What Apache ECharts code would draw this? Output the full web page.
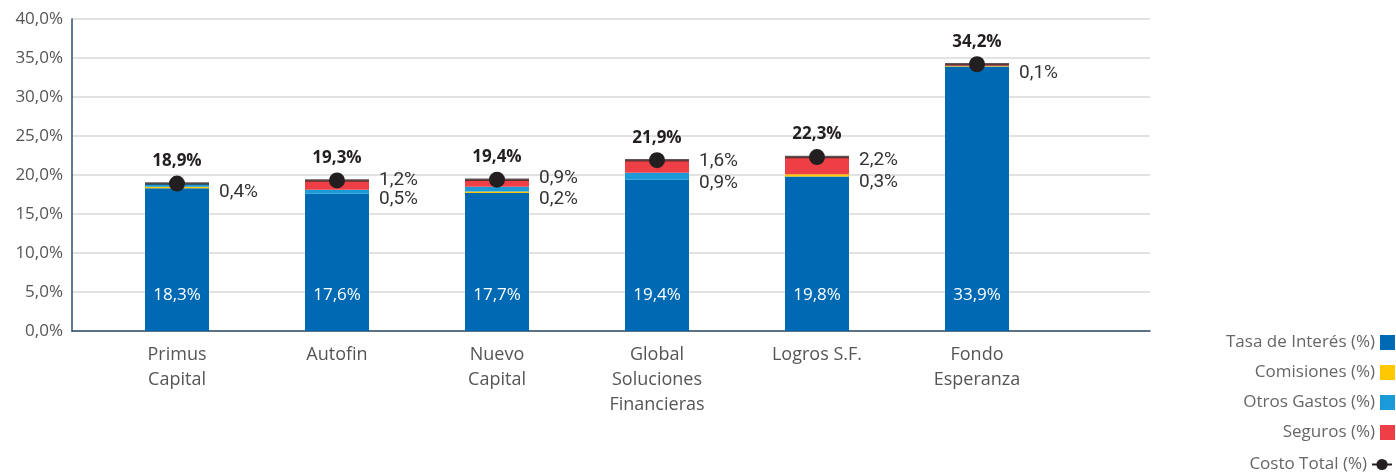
<!DOCTYPE html>
<html>
<head>
<meta charset="utf-8">
<script src="https://cdn.jsdelivr.net/npm/echarts@6/dist/echarts.min.js"></script>
<style>
  html, body { margin: 0; padding: 0; background: #fff; }
  #costo-chart { width: 1396px; height: 473px; }
</style>
</head>
<body>
<div id="costo-chart"></div>
<script>
// datos
const categories = ['Primus\nCapital', 'Autofin', 'Nuevo\nCapital', 'Global\nSoluciones\nFinancieras', 'Logros S.F.', 'Fondo\nEsperanza'];
const tasaInteres = [18.3, 17.6, 17.7, 19.4, 19.8, 33.9];
const comisiones = [0.2, 0, 0.2, 0, 0.3, 0.1];
const otrosGastos = [0.4, 0.5, 0.6, 0.9, 0, 0];
const seguros = [0, 1.2, 0.9, 1.6, 2.2, 0.2];
const costoTotal = [18.9, 19.3, 19.4, 21.9, 22.3, 34.2];
const yTicks = [0, 5, 10, 15, 20, 25, 30, 35, 40];

// que etiquetas laterales se ven en el original
const showComisiones = [false, false, true, false, true, true];
const showOtros = [true, true, false, true, false, false];
const showSeguros = [false, true, true, true, true, false];

const pct = v => v.toFixed(1).replace('.', ',') + '%';
const FONT = '"Open Sans", Lato, sans-serif';
const NARROW = 'Roboto, "Open Sans", sans-serif';

function sideData(values, show) {
  return values.map((v, i) => ({ value: v, label: { show: show[i] && v > 0 } }));
}

const sideLabel = {
  show: true,
  position: 'right',
  distance: 10,
  color: '#333',
  fontFamily: NARROW,
  fontSize: 19,
  formatter: p => pct(p.value)
};

let chart = echarts.init(document.getElementById('costo-chart'));
chart.setOption({
  animation: false,
  textStyle: { fontFamily: FONT },
  grid: [
    { left: 72, right: 246, top: 19, bottom: 142 },
    { left: 97, width: 960, top: 19, bottom: 142 }
  ],
  xAxis: [
    {
      gridIndex: 0, type: 'category', data: [''],
      axisLine: { lineStyle: { color: '#2f4c6e', width: 1.5 } },
      axisTick: { show: false }, axisLabel: { show: false }
    },
    {
      gridIndex: 1, type: 'category', data: categories,
      axisLine: { show: false }, axisTick: { show: false },
      axisLabel: { color: '#555', fontSize: 18, lineHeight: 25, margin: 11, fontFamily: FONT }
    }
  ],
  yAxis: [
    {
      gridIndex: 0, type: 'value', min: yTicks[0], max: yTicks[yTicks.length - 1], interval: 5,
      axisLine: { show: true, lineStyle: { color: '#2f4c6e', width: 1.5 } },
      axisTick: { show: false },
      splitLine: { lineStyle: { color: '#d9d9d9', width: 1.5 } },
      axisLabel: { color: '#555', fontSize: 17, margin: 9, formatter: v => pct(v) }
    },
    {
      gridIndex: 1, type: 'value', min: yTicks[0], max: yTicks[yTicks.length - 1],
      show: false, splitLine: { show: false }
    }
  ],
  legend: [
    {
      orient: 'vertical', right: 1, top: 334, align: 'right', padding: 0,
      itemWidth: 15, itemHeight: 15, itemGap: 13,
      icon: 'rect',
      textStyle: { color: '#666', fontSize: 17, lineHeight: 16, fontFamily: FONT },
      data: ['Tasa de Interés (%)', 'Comisiones (%)', 'Otros Gastos (%)', 'Seguros (%)']
    },
    {
      orient: 'vertical', right: 3, top: 456, align: 'right', padding: 0,
      itemWidth: 20, itemHeight: 14,
      textStyle: { color: '#666', fontSize: 17, lineHeight: 16, fontFamily: FONT },
      data: [{
        name: 'Costo Total (%)',
        lineStyle: { color: '#231f20', width: 2, opacity: 1 },
        itemStyle: { color: '#231f20' }
      }]
    }
  ],
  series: [
    {
      name: 'Tasa de Interés (%)', type: 'bar', stack: 'costo',
      xAxisIndex: 1, yAxisIndex: 1, barWidth: 64,
      itemStyle: { color: '#0069b4' },
      label: {
        show: true, position: 'insideBottom', distance: 27,
        color: '#fff', fontSize: 17, fontFamily: FONT,
        formatter: p => pct(p.value)
      },
      data: tasaInteres
    },
    {
      name: 'Comisiones (%)', type: 'bar', stack: 'costo',
      xAxisIndex: 1, yAxisIndex: 1, barWidth: 64,
      itemStyle: { color: '#ffc800' },
      label: sideLabel, labelLayout: { dy: 7 },
      data: sideData(comisiones, showComisiones)
    },
    {
      name: 'Otros Gastos (%)', type: 'bar', stack: 'costo',
      xAxisIndex: 1, yAxisIndex: 1, barWidth: 64,
      itemStyle: { color: '#1a9ad6' },
      label: sideLabel, labelLayout: { dy: 7 },
      data: sideData(otrosGastos, showOtros)
    },
    {
      name: 'Seguros (%)', type: 'bar', stack: 'costo',
      xAxisIndex: 1, yAxisIndex: 1, barWidth: 64,
      itemStyle: { color: '#ee3f46' },
      label: sideLabel, labelLayout: { dy: -5 },
      data: sideData(seguros, showSeguros)
    },
    {
      // raya oscura sobre cada barra
      name: 'tope', type: 'scatter',
      xAxisIndex: 1, yAxisIndex: 1,
      symbol: 'rect', symbolSize: [64, 2.5],
      itemStyle: { color: '#3b2a2a' },
      silent: true, z: 3,
      data: costoTotal
    },
    {
      name: 'Costo Total (%)', type: 'line',
      xAxisIndex: 1, yAxisIndex: 1,
      symbol: 'circle', symbolSize: 16,
      lineStyle: { opacity: 0 },
      itemStyle: { color: '#231f20' },
      z: 4,
      label: {
        show: true, position: 'top', distance: 6,
        color: '#231f20', fontSize: 17, fontWeight: 'bold', fontFamily: FONT,
        formatter: p => pct(p.value)
      },
      data: costoTotal
    }
  ]
});
</script>
</body>
</html>
